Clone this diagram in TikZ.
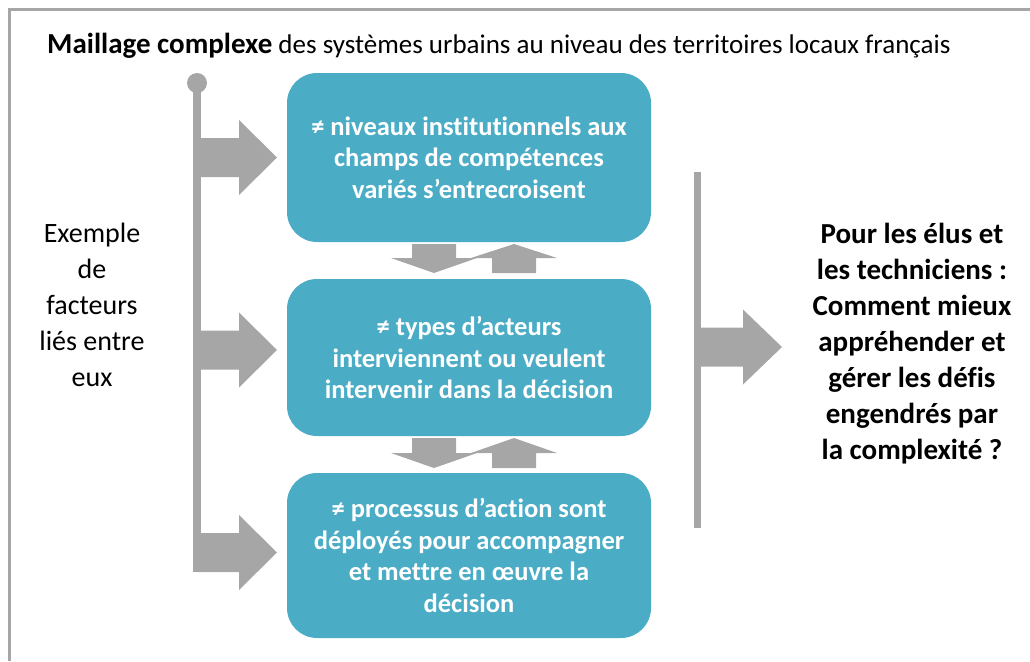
\documentclass[tikz,border=0pt]{standalone}
\usepackage{fontspec}
\setmainfont[Ligatures=NoCommon]{Carlito}
\usepackage{xcolor}
\usepackage{tikz}

\definecolor{boxteal}{HTML}{4BACC6}
\definecolor{arrowgrey}{HTML}{A6A6A6}

% horizontal block arrow: y, shaft start, head base, tip
\newcommand{\hblock}[4]{%
  \fill[arrowgrey] (#2,#1-19.5) -- (#3,#1-19.5) -- (#3,#1-37.5) -- (#4,#1)
    -- (#3,#1+37.5) -- (#3,#1+19.5) -- (#2,#1+19.5) -- cycle;}
% vertical block arrow: x, shaft end, head base, tip
\newcommand{\vblock}[4]{%
  \fill[arrowgrey] (#1-22,#2) -- (#1-22,#3) -- (#1-43,#3) -- (#1,#4)
    -- (#1+43,#3) -- (#1+22,#3) -- (#1+22,#2) -- cycle;}

\begin{document}
\begin{tikzpicture}[x=1pt, y=-1pt,
    box/.style={rectangle, rounded corners=30, fill=boxteal, text=white,
      minimum width=364, align=center,
      font=\bfseries\fontsize{26.5}{31.5}\selectfont},
    sidetext/.style={align=center, inner sep=0}]
            \useasboundingbox (0,0) rectangle (1030,661);
            \draw[arrowgrey, line width=3] (9.5,661) -- (9.5,9.5) -- (1030,9.5);

            \node[anchor=base west, inner sep=0] (title) at (47,53)
              {{\bfseries\fontsize{29}{34}\selectfont Maillage complexe}\fontsize{27}{32}\selectfont\ des systèmes urbains au niveau des territoires locaux français};

            % the three boxes
            \node[box, minimum height=169] (b1) at (469,157.5)
              {≠ niveaux institutionnels aux\\champs de compétences\\variés s’entrecroisent};
            \node[box, minimum height=157] (b2) at (469,357.5)
              {≠ types d’acteurs\\interviennent ou veulent\\intervenir dans la décision};
            \node[box, minimum height=165] (b3) at (469,555.5)
              {≠ processus d’action sont\\déployés pour accompagner\\et mettre en œuvre la\\décision};

            % left bar with its dot
            \node[circle, fill=arrowgrey, minimum size=20, inner sep=0] (dot) at (197,83) {};
            \coordinate (barend) at (197,572);
            \draw[arrowgrey, line width=8] (dot.center) -- (barend);
            \hblock{157.5}{197}{239}{277}
            \hblock{350}{197}{239}{277}
            \hblock{552.5}{197}{239}{277}

            % between the boxes
            \vblock{434}{244}{258}{273}
            \vblock{514}{273}{258}{244}
            \vblock{434}{438}{453}{468}
            \vblock{514}{468}{453}{438}

            % right bar
            \coordinate (rtop) at (697,172);
            \coordinate (rbot) at (697,528);
            \draw[arrowgrey, line width=7] (rtop) -- (rbot);
            \hblock{347}{697}{743}{782}

            \node[sidetext, font=\fontsize{28}{36}\selectfont] (factors) at (92,305)
              {Exemple\\de\\facteurs\\liés entre\\eux};
            \node[sidetext, font=\bfseries\fontsize{29}{36}\selectfont] (question) at (912,344)
              {Pour les élus et\\les techniciens :\\Comment mieux\\appréhender et\\gérer les défis\\engendrés par\\la complexité ?};
            \end{tikzpicture}
\end{document}
